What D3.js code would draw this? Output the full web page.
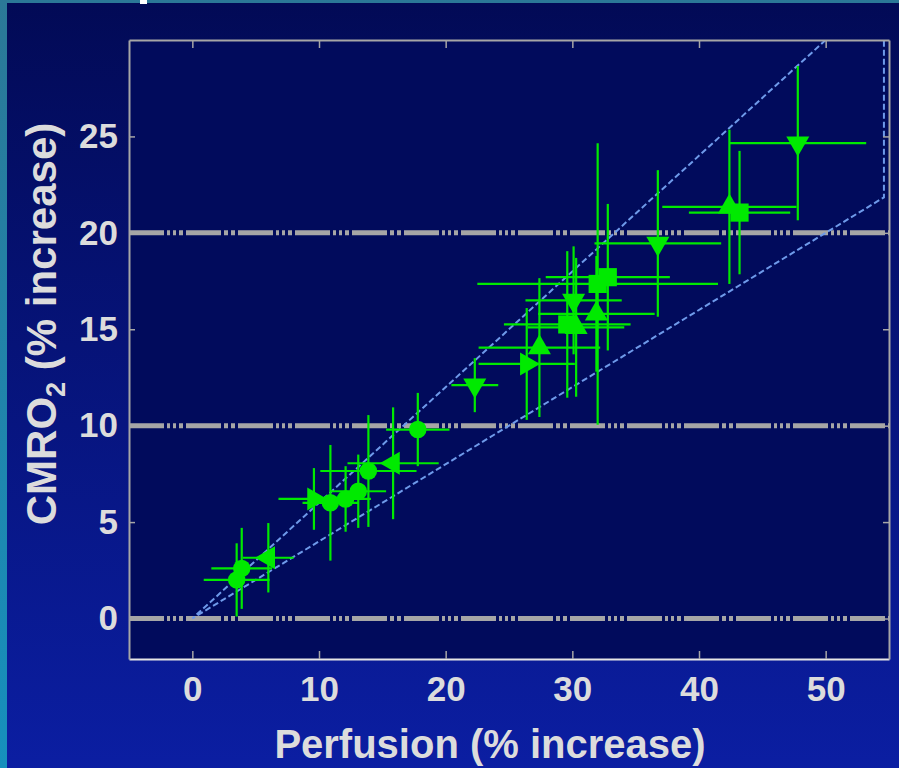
<!DOCTYPE html>
<html>
<head>
<meta charset="utf-8">
<script src="https://cdn.jsdelivr.net/npm/d3@7"></script>
<style>
  body { margin: 0; background: #2a7b9d; }
  svg { display: block; }
  text { font-family: "Liberation Sans", Arial, sans-serif; font-weight: bold; fill: #dcdcdc; }
</style>
</head>
<body>
<svg width="899" height="768"></svg>
<script>
// values
var shapes =       ["circle","circle","left","right","circle","circle","circle","circle","left","circle",
                    "down","right","up","square","up","down","up","square","square","down","up","square","down"];
var perfusion =    [3.5, 3.9, 6.0, 9.6, 10.9, 12.1, 13.1, 13.9, 15.85, 17.8,
                    22.3, 26.4, 27.4, 29.6, 30.3, 30.1, 31.9, 32.0, 32.8, 36.75, 42.4, 43.2, 47.8];
var perfusionErr = [2.6, 2.4, 2.0, 2.8, 2.2, 2.0, 2.2, 3.8, 3.6, 2.5,
                    1.85, 3.8, 4.8, 5.0, 3.8, 3.8, 4.6, 9.5, 4.9, 5.0, 5.3, 4.0, 5.4];
var cmro2 =        [2.0, 2.6, 3.15, 6.2, 6.0, 6.2, 6.6, 7.65, 8.05, 9.8,
                    12.1, 13.2, 14.05, 15.25, 15.1, 16.5, 15.8, 17.35, 17.7, 19.45, 21.35, 21.05, 24.65];
var cmro2Err =     [1.9, 2.1, 1.8, 1.6, 3.0, 1.7, 1.9, 2.9, 2.9, 1.9,
                    1.4, 2.9, 3.6, 3.8, 3.6, 2.8, 3.0, 7.3, 3.8, 3.8, 4.0, 3.2, 4.0];

var xTicks = [0, 10, 20, 30, 40, 50];
var yTicks = [0, 5, 10, 15, 20, 25];
var gridLevels = [0, 10, 20];
// dashed envelope: slope 0.6 and slope 0.4 lines from the origin
var envelopeX = [50, 0, 54.6, 54.6];
var envelopeY = [30, 0, 21.84, 30];

(function() {
var svg = d3.select("svg");
var W = +svg.attr("width"), H = +svg.attr("height");
var pl = 129, pr = 889, ptop = 40, pbot = 659;

var x = d3.scaleLinear().domain([-5, 55]).range([pl, pr]);
var y = d3.scaleLinear().domain([-2.1, 30]).range([pbot, ptop]);

var defs = svg.append("defs");
var bg = defs.append("linearGradient").attr("id", "bg").attr("x1", 0).attr("y1", 0).attr("x2", 0).attr("y2", 1);
bg.append("stop").attr("offset", 0).attr("stop-color", "#020a56");
bg.append("stop").attr("offset", 1).attr("stop-color", "#0b1ea2");
var strip = defs.append("linearGradient").attr("id", "strip").attr("x1", 0).attr("y1", 0).attr("x2", 0).attr("y2", 1);
strip.append("stop").attr("offset", 0).attr("stop-color", "#2b7897");
strip.append("stop").attr("offset", 1).attr("stop-color", "#1690bd");
defs.append("clipPath").attr("id", "clip").append("rect")
    .attr("x", pl).attr("y", ptop).attr("width", pr - pl).attr("height", pbot - ptop);

svg.append("rect").attr("width", W).attr("height", H).attr("fill", "url(#strip)");
svg.append("rect").attr("x", 7).attr("y", 3).attr("width", W - 7).attr("height", H - 3).attr("fill", "url(#bg)");
svg.append("rect").attr("x", 140).attr("y", 0).attr("width", 7).attr("height", 4).attr("fill", "#ffffff");

// plot area
svg.append("rect").attr("x", pl).attr("y", ptop).attr("width", pr - pl).attr("height", pbot - ptop)
    .attr("fill", "#010b5c");

var plot = svg.append("g").attr("clip-path", "url(#clip)");

plot.selectAll(".grid").data(gridLevels).enter().append("line")
    .attr("x1", pl).attr("x2", pr)
    .attr("y1", function(d) { return y(d); }).attr("y2", function(d) { return y(d); })
    .attr("stroke", "#a6a6a6").attr("stroke-width", 5)
    .attr("stroke-dasharray", "35,3,3,3,3,3,4,3,35,3,4,3,4,3,35,3,3,3,3,3,4,3");

var env = envelopeX.map(function(v, i) { return [v, envelopeY[i]]; });
plot.append("path")
    .attr("d", d3.line().x(function(d) { return x(d[0]); }).y(function(d) { return y(d[1]); })(env))
    .attr("fill", "none").attr("stroke", "#6e9aea").attr("stroke-width", 2)
    .attr("stroke-dasharray", "6,3");

var pts = perfusion.map(function(v, i) {
  return { x: v, y: cmro2[i], xe: perfusionErr[i], ye: cmro2Err[i], s: shapes[i] };
});
var green = "#00ea00";

var bars = plot.append("g").attr("stroke", green).attr("stroke-width", 2.2);
bars.selectAll(".h").data(pts).enter().append("line")
    .attr("x1", function(d) { return x(d.x - d.xe); }).attr("x2", function(d) { return x(d.x + d.xe); })
    .attr("y1", function(d) { return y(d.y); }).attr("y2", function(d) { return y(d.y); });
bars.selectAll(".v").data(pts).enter().append("line")
    .attr("x1", function(d) { return x(d.x); }).attr("x2", function(d) { return x(d.x); })
    .attr("y1", function(d) { return y(d.y - d.ye); }).attr("y2", function(d) { return y(d.y + d.ye); });

var symType = { circle: d3.symbolCircle, square: d3.symbolSquare, up: d3.symbolTriangle,
                down: d3.symbolTriangle, left: d3.symbolTriangle, right: d3.symbolTriangle };
var symSize = { circle: 240, square: 330, up: 230, down: 230, left: 230, right: 230 };
var symRot = { circle: 0, square: 0, up: 0, down: 180, left: -90, right: 90 };

plot.selectAll(".pt").data(pts).enter().append("path")
    .attr("d", function(d) { return d3.symbol().type(symType[d.s]).size(symSize[d.s])(); })
    .attr("transform", function(d) {
      return "translate(" + x(d.x) + "," + y(d.y) + ") rotate(" + symRot[d.s] + ")";
    })
    .attr("fill", green);

// axes frame
function styleAxis(g, col) {
  g.select(".domain").attr("stroke", col).attr("stroke-width", 2);
  g.selectAll(".tick line").attr("stroke", "#a6a6a6").attr("stroke-width", 1.5);
}
var gb = svg.append("g").attr("transform", "translate(0," + pbot + ")")
    .call(d3.axisBottom(x).tickValues(xTicks).tickSizeInner(-8).tickSizeOuter(0).tickPadding(17));
styleAxis(gb, "#e6e6e6");

var gt = svg.append("g").attr("transform", "translate(0," + ptop + ")")
    .call(d3.axisTop(x).tickValues(xTicks).tickSizeInner(-8).tickSizeOuter(0).tickFormat(""));
styleAxis(gt, "#a6a6a6");

var gl = svg.append("g").attr("transform", "translate(" + pl + ",0)")
    .call(d3.axisLeft(y).tickValues(yTicks).tickSizeInner(-6).tickSizeOuter(0).tickPadding(11));
styleAxis(gl, "#a6a6a6");

var gr = svg.append("g").attr("transform", "translate(" + pr + ",0)")
    .call(d3.axisRight(y).tickValues(yTicks).tickSizeInner(-6).tickSizeOuter(0).tickFormat(""));
styleAxis(gr, "#a6a6a6");

svg.selectAll(".tick text")
    .style("font-family", '"Liberation Sans", Arial, sans-serif')
    .attr("font-weight", "bold").attr("font-size", 35).attr("fill", "#dcdcdc");

// titles
svg.append("text").attr("x", (x(-5) + x(55)) / 2 - 19).attr("y", 758)
    .attr("text-anchor", "middle").attr("font-size", 40)
    .text("Perfusion (% increase)");

var yt = svg.append("text").attr("transform", "translate(56,324) rotate(-90)")
    .attr("text-anchor", "middle").attr("font-size", 42);
yt.append("tspan").text("CMRO");
yt.append("tspan").attr("font-size", 27).attr("dy", 9).text("2");
yt.append("tspan").attr("dy", -9).text(" (% increase)");
})();
</script>
</body>
</html>
